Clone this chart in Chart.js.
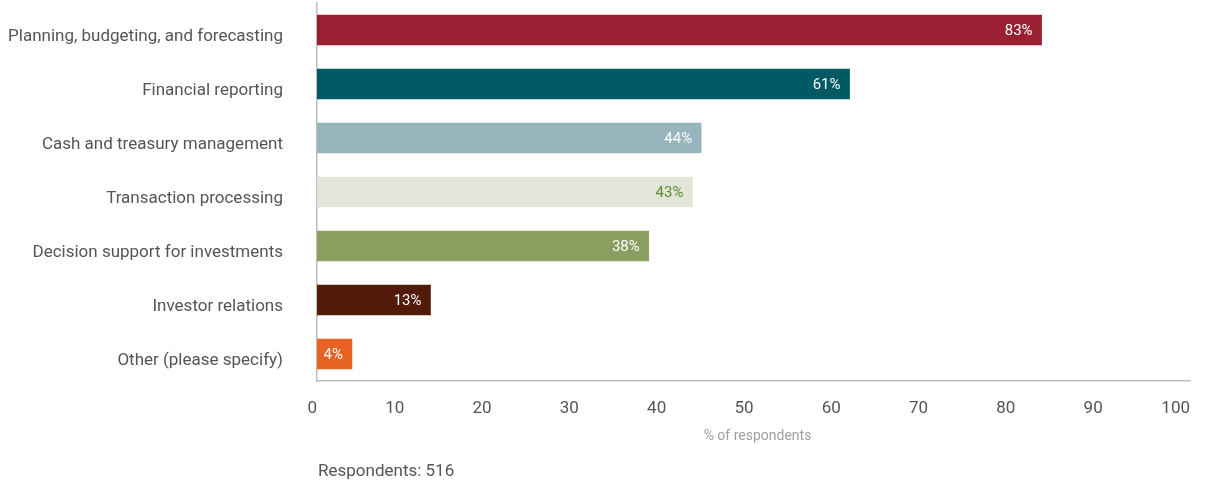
<!DOCTYPE html>
<html>
<head>
<meta charset="utf-8">
<script src="https://cdn.jsdelivr.net/npm/chart.js@4/dist/chart.umd.min.js"></script>
<style>
html,body{margin:0;padding:0;background:#fff}
#wrap{position:relative;width:1210px;height:483px}
</style>
</head>
<body>
<div id="wrap"><canvas id="chart" width="1210" height="483"></canvas></div>
<script>
const categories=[
"Planning, budgeting, and forecasting",
"Financial reporting",
"Cash and treasury management",
"Transaction processing",
"Decision support for investments",
"Investor relations",
"Other (please specify)"
]
const values=[83,61,44,43,38,13,4]
const barColors=["#9b1f32","#005a64","#98b4bc","#e1e6d8","#8a9e60","#521a08","#e86224"]
const labelColors=["#fff","#fff","#fff","#5e8a3a","#fff","#fff","#fff"]
const xTicks=[0,10,20,30,40,50,60,70,80,90,100]
const axisTitle="% of respondents"
const footnote="Respondents: 516"

const FONT="'Roboto',sans-serif"

// category names (sitting a little below the bar centre), value labels,
// axis title and footnote
const labelPlugin={
id:"labels",
afterDatasetsDraw(chart){
const ctx=chart.ctx
const meta=chart.getDatasetMeta(0)
const yScale=chart.scales.y
const area=chart.chartArea
ctx.save()
ctx.textBaseline="middle"

ctx.font="17px "+FONT
ctx.fillStyle="#555"
ctx.textAlign="right"
categories.forEach((c,i)=>{
ctx.fillText(c,area.left-34,yScale.getPixelForTick(i)+7)
})

ctx.font="15px "+FONT
meta.data.forEach((bar,i)=>{
ctx.fillStyle=labelColors[i]
ctx.fillText(values[i]+"%",bar.x-9,bar.y+1)
})

ctx.textAlign="center"
ctx.font="14px "+FONT
ctx.fillStyle="#a0a0a0"
ctx.fillText(axisTitle,(area.left+area.right)/2+4,area.bottom+55)

ctx.textAlign="left"
ctx.font="17px "+FONT
ctx.fillStyle="#555"
ctx.fillText(footnote,area.left+1,area.bottom+91)
ctx.restore()
}
}

new Chart(document.getElementById("chart"),{
type:"bar",
data:{
labels:categories,
datasets:[{
data:values,
backgroundColor:barColors,
barThickness:30
}]
},
options:{
indexAxis:"y",
responsive:false,
animation:false,
layout:{padding:{left:0,right:20,top:3,bottom:0}},
plugins:{legend:{display:false},tooltip:{enabled:false}},
scales:{
x:{
min:0,max:100,
afterBuildTicks(scale){scale.ticks=xTicks.map(v=>({value:v}))},
grid:{display:false,drawTicks:false},
border:{color:"#bdbdbd",width:1.5},
ticks:{color:"#555",padding:18,align:"end",font:{family:FONT,size:17}},
afterFit(scale){scale.height=102;scale.paddingLeft=0;scale.paddingRight=0}
},
y:{
grid:{display:false,drawTicks:false},
border:{color:"#bdbdbd",width:1.5},
ticks:{display:false},
afterFit(scale){scale.width=317;scale.paddingTop=0;scale.paddingBottom=0}
}
}
},
plugins:[labelPlugin]
})
</script>
</body>
</html>
